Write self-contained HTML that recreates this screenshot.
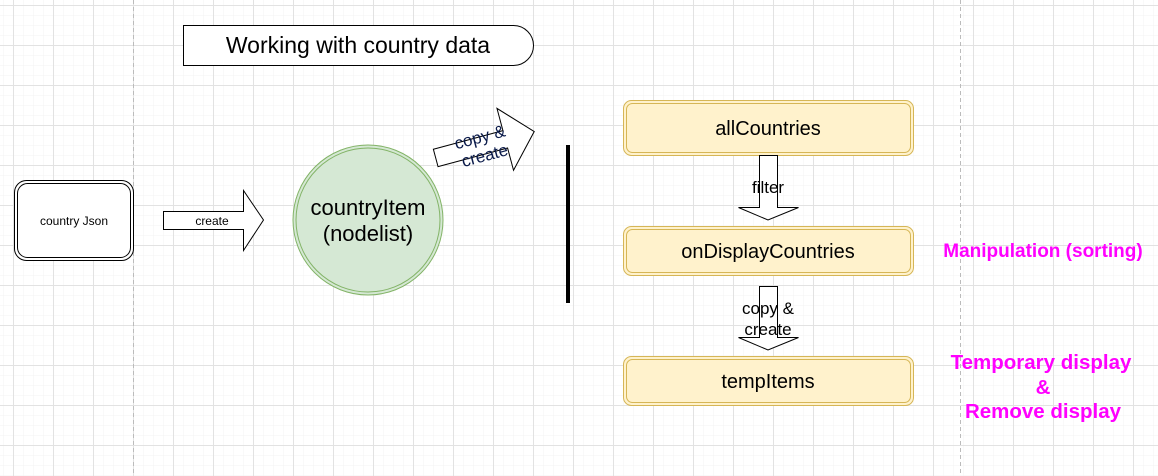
<!DOCTYPE html>
<html><head><meta charset="utf-8"><style>
html,body{margin:0;padding:0;background:#fff;}
svg{display:block;font-family:"Liberation Sans",Arial,sans-serif;}
</style></head><body>
<svg width="1158" height="476" viewBox="0 0 1158 476" xmlns="http://www.w3.org/2000/svg">
<defs>
<pattern id="minor" width="10" height="10" patternUnits="userSpaceOnUse" x="3" y="5">
<path d="M0 0H10M0 0V10" stroke="#f3f3f3" stroke-width="1" fill="none"/>
</pattern>
<pattern id="major" width="40" height="40" patternUnits="userSpaceOnUse" x="13" y="5">
<path d="M0 0.5H40M0.5 0V40" stroke="#e2e2e2" stroke-width="1" fill="none"/>
</pattern>
</defs>
<rect width="1158" height="476" fill="#fff"/>
<rect width="1158" height="476" fill="url(#minor)"/>
<rect width="1158" height="476" fill="url(#major)"/>
<line x1="133.5" y1="0" x2="133.5" y2="476" stroke="#bbb" stroke-dasharray="4 3"/>
<line x1="960.5" y1="0" x2="960.5" y2="476" stroke="#bbb" stroke-dasharray="4 3"/>

<!-- title -->
<path d="M183.5 25.5H513.5A20 20 0 0 1 513.5 65.5H183.5Z" fill="#fff" stroke="#000"/>
<text x="358" y="53" font-size="23" text-anchor="middle">Working with country data</text>

<!-- country json -->
<rect x="14.5" y="180.5" width="119" height="80" rx="12" fill="#fff" stroke="#000"/>
<rect x="17.5" y="183.5" width="113" height="74" rx="10" fill="#fff" stroke="#000"/>
<text x="74" y="225" font-size="12" text-anchor="middle">country Json</text>

<!-- create arrow -->
<path d="M163.5 211.5H243.5V190.5L263.5 220L243.5 250.5V229.5H163.5Z" fill="#fff" stroke="#000"/>
<text x="212" y="225" font-size="12" text-anchor="middle">create</text>

<!-- circle -->
<circle cx="368" cy="220" r="75" fill="#d5e8d4" stroke="#82b366"/>
<circle cx="368" cy="220" r="72" fill="none" stroke="#82b366"/>
<text x="368" y="215" font-size="22" text-anchor="middle">countryItem</text>
<text x="368" y="241" font-size="22" text-anchor="middle">(nodelist)</text>

<!-- tilted arrow -->
<g transform="translate(484,145) rotate(-15)">
<path d="M-50 -9H22V-32L52 0L22 32V9H-50Z" fill="#fff" stroke="#000"/>
<text x="-2" y="-3" font-size="17" text-anchor="middle" fill="#0a1a4a">copy &amp;</text>
<text x="-2" y="16" font-size="17" text-anchor="middle" fill="#0a1a4a">create</text>
</g>

<!-- bar -->
<rect x="566" y="145" width="4" height="158" fill="#000"/>

<!-- boxes -->
<g fill="#fff2cc" stroke="#d6b656">
<rect x="623.5" y="100.5" width="290" height="55" rx="8"/>
<rect x="626.5" y="103.5" width="284" height="49" rx="6" fill="none"/>
<rect x="623.5" y="226.5" width="290" height="49" rx="8"/>
<rect x="626.5" y="229.5" width="284" height="43" rx="6" fill="none"/>
<rect x="623.5" y="356.5" width="290" height="49" rx="8"/>
<rect x="626.5" y="359.5" width="284" height="43" rx="6" fill="none"/>
</g>
<text x="768" y="135" font-size="20" text-anchor="middle">allCountries</text>
<text x="768" y="258" font-size="20" text-anchor="middle">onDisplayCountries</text>
<text x="768" y="388" font-size="20" text-anchor="middle">tempItems</text>

<!-- down arrows -->
<path d="M759.5 155.5H777.5V207.5H798.5L768 220L738.5 207.5H759.5Z" fill="#fff" stroke="#000"/>
<text x="768" y="193" font-size="17" text-anchor="middle">filter</text>
<path d="M759.5 286.5H777.5V337.5H798.5L768 350L738.5 337.5H759.5Z" fill="#fff" stroke="#000"/>
<text x="768" y="314" font-size="17" text-anchor="middle">copy &amp;</text>
<text x="768" y="335" font-size="17" text-anchor="middle">create</text>

<!-- magenta labels -->
<g fill="#ff00ff" font-weight="bold" text-anchor="middle">
<text x="1043" y="257" font-size="19">Manipulation (sorting)</text>
<text x="1041" y="369" font-size="20.5">Temporary display</text>
<text x="1043" y="394" font-size="20.5">&amp;</text>
<text x="1043" y="418" font-size="20.5">Remove display</text>
</g>
</svg>
</body></html>
